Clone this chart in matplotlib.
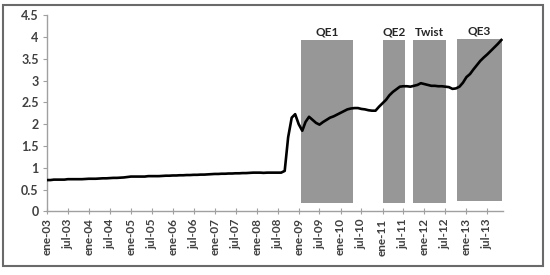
import matplotlib
matplotlib.use('Agg')
import matplotlib.pyplot as plt
import matplotlib.dates as mdates
import pandas as pd
from matplotlib.patches import Rectangle

# balance de la Fed (billones de USD), un valor por mes desde ene-03
balance = [
    0.72, 0.72, 0.73, 0.73, 0.73, 0.73, 0.74, 0.74, 0.74, 0.74, 0.74, 0.745,    # 2003
    0.75, 0.75, 0.75, 0.755, 0.76, 0.76, 0.765, 0.77, 0.77, 0.775, 0.78, 0.79,  # 2004
    0.80, 0.80, 0.80, 0.80, 0.80, 0.81, 0.81, 0.81, 0.81, 0.815, 0.82, 0.82,    # 2005
    0.825, 0.825, 0.83, 0.83, 0.835, 0.835, 0.84, 0.84, 0.845, 0.845, 0.85, 0.855,  # 2006
    0.86, 0.86, 0.865, 0.865, 0.87, 0.87, 0.875, 0.875, 0.88, 0.88, 0.885, 0.89,    # 2007
    0.89, 0.89, 0.885, 0.89, 0.89, 0.89, 0.89, 0.89, 0.93, 1.70, 2.15, 2.23,    # 2008
    2.00, 1.85, 2.05, 2.17, 2.10, 2.03, 1.99, 2.05, 2.10, 2.15, 2.18, 2.22,     # 2009
    2.26, 2.30, 2.34, 2.36, 2.37, 2.37, 2.35, 2.34, 2.32, 2.31, 2.31, 2.40,     # 2010
    2.48, 2.56, 2.66, 2.74, 2.80, 2.86, 2.87, 2.87, 2.86, 2.88, 2.90, 2.94,     # 2011
    2.92, 2.90, 2.88, 2.88, 2.87, 2.87, 2.86, 2.85, 2.81, 2.82, 2.86, 2.95,     # 2012
    3.08, 3.15, 3.25, 3.35, 3.45, 3.53, 3.60, 3.68, 3.76, 3.84, 3.93,           # 2013
]

# programas
programas = ['QE1', 'QE2', 'Twist', 'QE3']
inicio = ['2009-01-25', '2011-01-05', '2011-09-20', '2012-10-10']
fin = ['2010-04-15', '2011-07-15', '2012-07-05', '2013-11-05']
piso = [0.19, 0.20, 0.20, 0.24]
techo = [3.92, 3.92, 3.92, 3.96]

etiquetas_x = ['ene-03', 'jul-03', 'ene-04', 'jul-04', 'ene-05', 'jul-05',
               'ene-06', 'jul-06', 'ene-07', 'jul-07', 'ene-08', 'jul-08',
               'ene-09', 'jul-09', 'ene-10', 'jul-10', 'ene-11', 'jul-11',
               'ene-12', 'jul-12', 'ene-13', 'jul-13']

fechas = pd.date_range('2003-01-01', periods=len(balance), freq='MS')
ticks_x = pd.date_range('2003-01-01', periods=len(etiquetas_x), freq='6MS')

plt.rcParams['font.family'] = ['Lato', 'DejaVu Sans']

fig = plt.figure(figsize=(5.5, 2.75), dpi=100)
ax = fig.add_axes([0.0855, 0.231, 0.829, 0.714])

gris = '#979797'
for i in range(len(programas)):
    x0 = mdates.date2num(pd.Timestamp(inicio[i]))
    x1 = mdates.date2num(pd.Timestamp(fin[i]))
    ax.bar(x0, techo[i] - piso[i], width=x1 - x0, bottom=piso[i],
           align='edge', color=gris, edgecolor='none', zorder=1)
    ax.text((x0 + x1) / 2, techo[i] + 0.06, programas[i], ha='center',
            va='bottom', fontsize=8.5, fontweight='bold', color='#262626')

ax.plot(fechas, balance, color='black', linewidth=1.9, zorder=3)

ax.set_ylim(0, 4.5)
ax.set_yticks([0, 0.5, 1, 1.5, 2, 2.5, 3, 3.5, 4, 4.5])
ax.set_yticklabels(['0', '0.5', '1', '1.5', '2', '2.5', '3', '3.5', '4', '4.5'])
ax.set_xlim(mdates.date2num(pd.Timestamp('2003-01-01')),
            mdates.date2num(pd.Timestamp('2013-11-15')))
ax.set_xticks(ticks_x)
ax.set_xticklabels(etiquetas_x, rotation=90)

for s in ['top', 'right']:
    ax.spines[s].set_visible(False)
for s in ['left', 'bottom']:
    ax.spines[s].set_color('#a0a0a0')
    ax.spines[s].set_linewidth(1.0)

ax.tick_params(axis='y', length=3, color='#a0a0a0', labelsize=9,
               labelcolor='#404040', pad=3)
ax.tick_params(axis='x', direction='inout', length=4, color='#a0a0a0',
               labelsize=8.5, labelcolor='#404040', pad=3)
for lab in ax.get_yticklabels() + ax.get_xticklabels():
    lab.set_fontweight('bold')

# marco exterior
fig.patches.append(Rectangle((3 / 550, 1 - 266 / 275), 540 / 550, 261 / 275,
                             transform=fig.transFigure, fill=False,
                             edgecolor='#6a6a6a', linewidth=1.5))

fig.savefig('out.png', dpi=100)
